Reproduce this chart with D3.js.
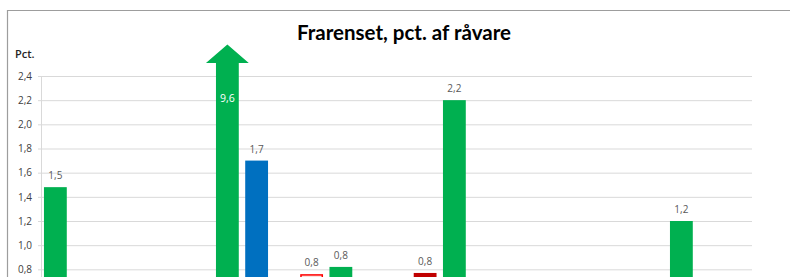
<!DOCTYPE html>
<html>
<head>
<meta charset="utf-8">
<script src="https://cdn.jsdelivr.net/npm/d3@7"></script>
<style>
  html, body { margin: 0; padding: 0; background: #fff; overflow: hidden; }
  svg { display: block; }
</style>
</head>
<body>
<svg id="chart" width="790" height="277"></svg>
<script>
// ---- data ----
const title = "Frarenset, pct. af råvare";
const unitLabel = "Pct.";
const categories = ["K1", "K2", "K3", "K4", "K5", "K6"];
const seriesNames = ["S1", "S2", "S3", "S4"];
const series1 = [1.48, null, null, null, null, null];
const series2 = [null, null, 0.76, 0.77, null, null];
const series3 = [null, 9.6, 0.82, 2.2, null, 1.2];
const series4 = [null, 1.7, null, null, null, null];
const yTicks = [0.8, 1.0, 1.2, 1.4, 1.6, 1.8, 2.0, 2.2, 2.4];
const yMax = 2.4;

// per-bar colours (fill, stroke)
const colGreen = "#00b050", colBlue = "#0070c0", colRed = "#ff0000", colDarkRed = "#c00000";
const series2Fill = [null, null, "#fbe0dc", colDarkRed, null, null];
const series2Stroke = [null, null, colRed, colDarkRed, null, null];

const allSeries = [series1, series2, series3, series4];

const svg = d3.select("#chart");
const fmt = v => d3.format(".1f")(v).replace(".", ",");

// frame
svg.append("line").attr("x1", 7).attr("x2", 790).attr("y1", 10.5).attr("y2", 10.5)
  .attr("stroke", "#9d9d9d").attr("stroke-width", 1.2);
svg.append("line").attr("x1", 7.5).attr("x2", 7.5).attr("y1", 10).attr("y2", 277)
  .attr("stroke", "#9d9d9d").attr("stroke-width", 1.2);

// scales
const tickLeft = 38, plotLeft = 41.5, plotRight = 752;
const y = d3.scaleLinear().domain([0, yMax]).range([366, 76]);
const x0 = d3.scaleBand().domain(categories).range([42.5, 723.5]).paddingInner(0).paddingOuter(0);
const x1 = d3.scaleBand().domain(seriesNames).range([0, x0.bandwidth()]).paddingInner(0.22).paddingOuter(0.05);

// gridlines + tick labels
const yAxis = d3.axisLeft(y).tickValues(yTicks).tickSize(-(plotRight - tickLeft)).tickPadding(6).tickFormat(fmt);
const gAxis = svg.append("g").attr("transform", `translate(${tickLeft},0)`).call(yAxis);
gAxis.select(".domain").remove();
gAxis.selectAll(".tick line").attr("stroke", "#d9d9d9").attr("stroke-width", 1);
gAxis.selectAll(".tick text").attr("fill", "#404040")
  .style("font-family", "'Open Sans', 'DejaVu Sans', sans-serif").style("font-size", "10px");

// vertical axis line
svg.append("line").attr("x1", plotLeft).attr("x2", plotLeft).attr("y1", y(yMax)).attr("y2", 277)
  .attr("stroke", "#d9d9d9").attr("stroke-width", 1);

// title
svg.append("text").attr("x", 404).attr("y", 40).attr("text-anchor", "middle")
  .style("font-family", "Lato, 'Open Sans', sans-serif").style("font-weight", "bold")
  .style("font-size", "20.5px").attr("fill", "#000").text(title);

svg.append("text").attr("x", 15).attr("y", 58)
  .style("font-family", "'Open Sans', 'DejaVu Sans', sans-serif").style("font-size", "11px")
  .style("font-weight", "600").attr("fill", "#262626").text(unitLabel);

// bars
const bars = [];
allSeries.forEach((vals, si) => {
  vals.forEach((v, ci) => {
    if (v == null) return;
    let fill, stroke;
    if (si === 0 || si === 2) { fill = colGreen; stroke = colGreen; }
    else if (si === 3) { fill = colBlue; stroke = colBlue; }
    else { fill = series2Fill[ci]; stroke = series2Stroke[ci]; }
    bars.push({ v, si, ci, fill, stroke });
  });
});

const gBars = svg.append("g");
bars.forEach(b => {
  const bx = x0(categories[b.ci]) + x1(seriesNames[b.si]);
  const bw = x1.bandwidth();
  if (b.v <= yMax) {
    gBars.append("rect").attr("x", bx + 0.75).attr("y", y(b.v) + 0.75)
      .attr("width", bw - 1.5).attr("height", y(0) - y(b.v))
      .attr("fill", b.fill).attr("stroke", b.stroke).attr("stroke-width", 1.5);
    gBars.append("text").attr("x", bx + bw / 2).attr("y", y(b.v) - 8)
      .attr("text-anchor", "middle").attr("fill", "#595959")
      .style("font-family", "'Open Sans', 'DejaVu Sans', sans-serif").style("font-size", "10px")
      .text(fmt(b.v));
  } else {
    // off-scale value: draw as an arrow
    const headBase = y(yMax) - 13;
    const tip = headBase - 18.5;
    const ext = 10;
    const path = d3.path();
    path.moveTo(bx, y(0));
    path.lineTo(bx, headBase);
    path.lineTo(bx - ext, headBase);
    path.lineTo(bx + bw / 2, tip);
    path.lineTo(bx + bw + ext, headBase);
    path.lineTo(bx + bw, headBase);
    path.lineTo(bx + bw, y(0));
    path.closePath();
    gBars.append("path").attr("d", path.toString()).attr("fill", b.fill);
    gBars.append("text").attr("x", bx + bw / 2).attr("y", y(yMax) + 26)
      .attr("text-anchor", "middle").attr("fill", "#ffffff")
      .style("font-family", "'Open Sans', 'DejaVu Sans', sans-serif").style("font-size", "10.5px")
      .text(fmt(b.v));
  }
});
</script>
</body>
</html>
